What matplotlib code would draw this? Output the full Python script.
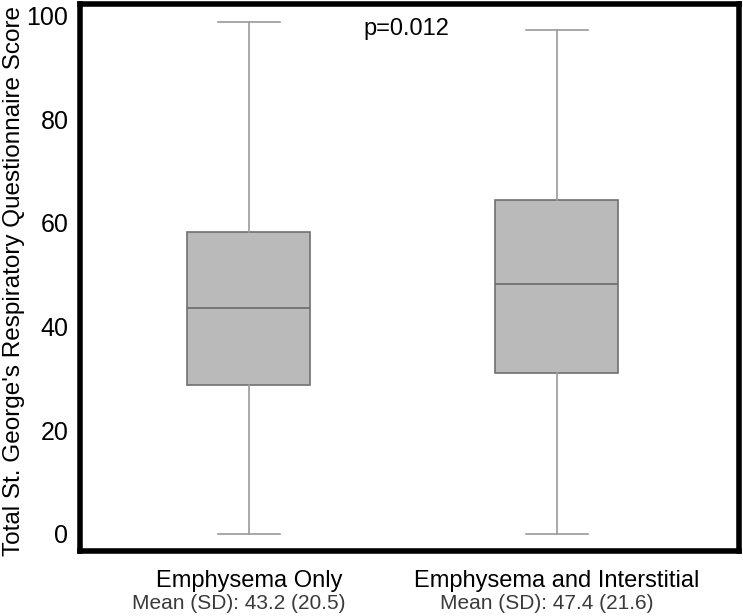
import matplotlib.pyplot as plt

plt.rcParams['font.family'] = ['Liberation Sans', 'DejaVu Sans']

groups = ['Emphysema Only', 'Emphysema and Interstitial']
means_sd = ['Mean (SD): 43.2 (20.5)', 'Mean (SD): 47.4 (21.6)']
whisker_low = [0.0, 0.0]
q1 = [28.7, 31.0]
medians = [43.5, 48.1]
q3 = [58.3, 64.4]
whisker_high = [98.7, 97.3]
p_text = 'p=0.012'

stats = []
for i in range(len(groups)):
    stats.append({'whislo': whisker_low[i], 'q1': q1[i], 'med': medians[i],
                  'q3': q3[i], 'whishi': whisker_high[i], 'fliers': []})

fig = plt.figure(figsize=(7.43, 6.16), dpi=100)
ax = fig.add_axes([0.107, 0.106, 0.887, 0.888])

ax.bxp(stats, positions=[1, 2], widths=0.40, patch_artist=True, showfliers=False,
       boxprops=dict(facecolor='#bababa', edgecolor='#707070', linewidth=1.2),
       medianprops=dict(color='#6a6a6a', linewidth=1.2),
       whiskerprops=dict(color='#9a9a9a', linewidth=1.2),
       capprops=dict(color='#9a9a9a', linewidth=1.2))

ax.set_xlim(0.45, 2.59)
ax.set_ylim(-3.3, 102.3)
ax.set_yticks([0, 20, 40, 60, 80, 100])
ax.tick_params(axis='y', length=0, labelsize=18, pad=8)
ax.set_xticks([1, 2])
ax.set_xticklabels([''] * 2)
ax.tick_params(axis='x', length=0)
for s in ax.spines.values():
    s.set_linewidth(4)
    s.set_color('black')

for i, (g, m) in enumerate(zip(groups, means_sd)):
    ax.annotate(g, xy=(i + 1, 0), xycoords=('data', 'axes fraction'),
                xytext=(0, -14), textcoords='offset points',
                ha='center', va='top', fontsize=17, color='black')
    ax.annotate(m, xy=(i + 1, 0), xycoords=('data', 'axes fraction'),
                xytext=(-7, -31), textcoords='offset points',
                ha='center', va='top', fontsize=15, color='#3a3a3a')

ax.text(1.51, 97.5, p_text, ha='center', va='center', fontsize=17)
ax.set_ylabel("Total St. George's Respiratory Questionnaire Score", fontsize=17.5)
ax.yaxis.set_label_coords(-0.083, 0.493)

plt.savefig('out.png', dpi=100)
